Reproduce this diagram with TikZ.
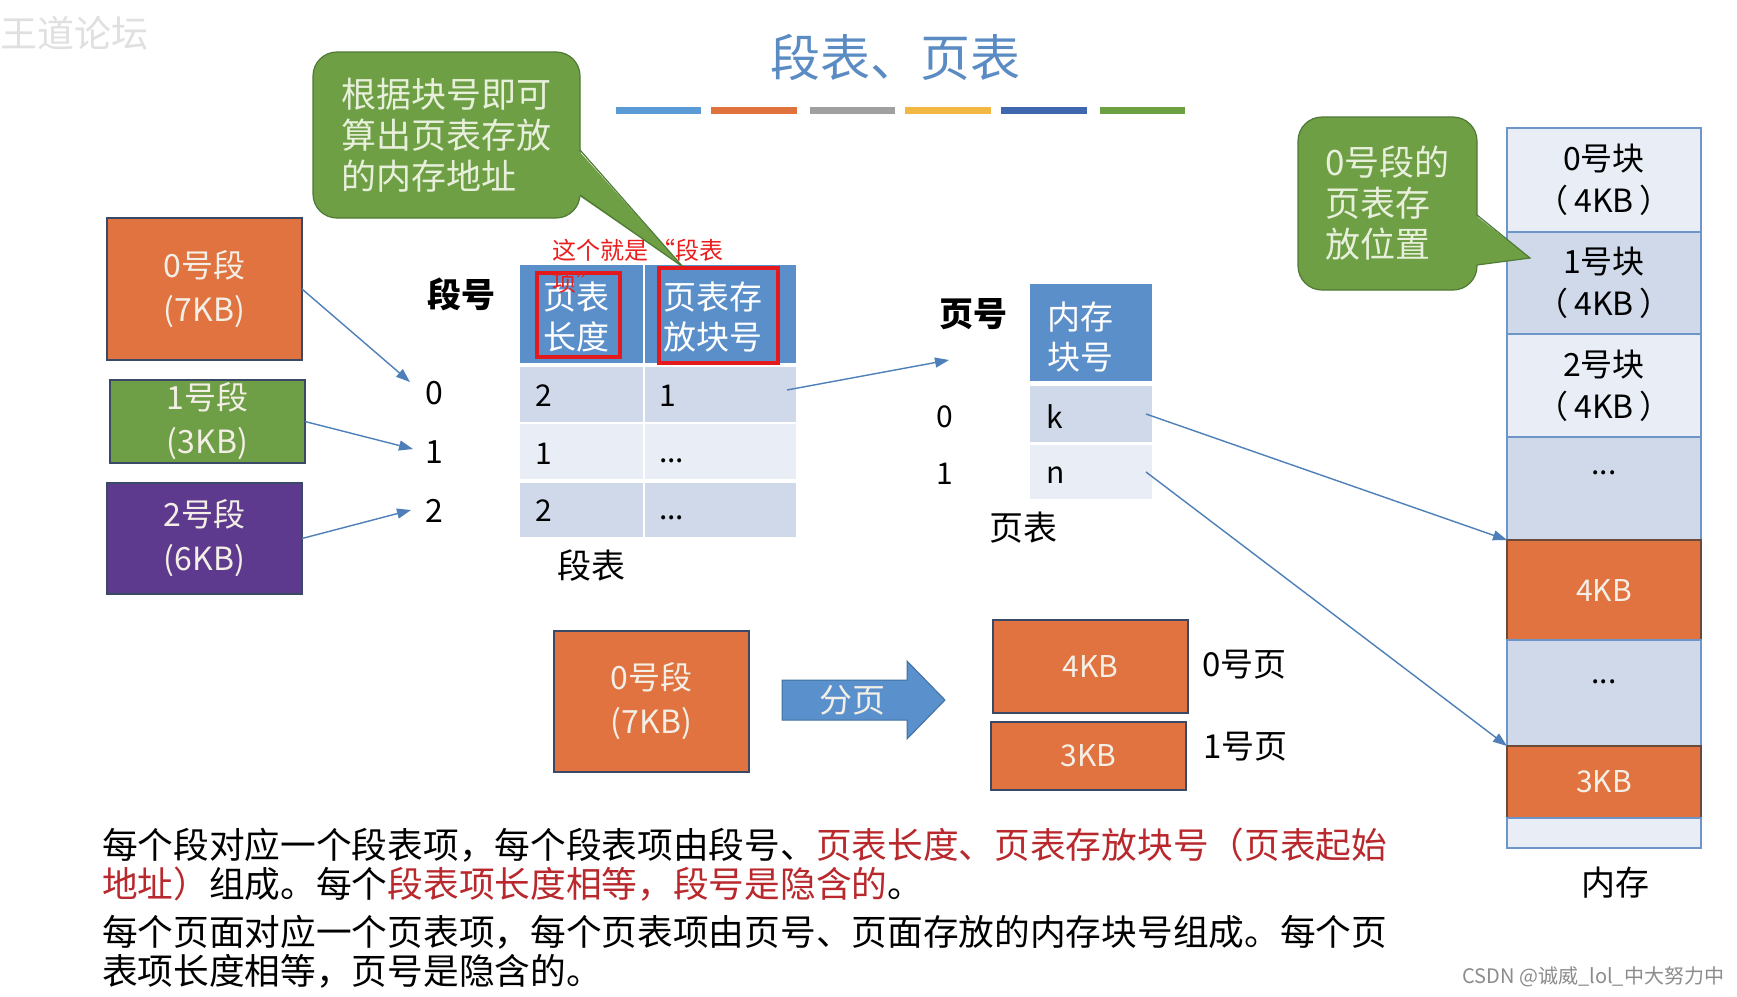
\documentclass[tikz,border=0pt]{standalone}
\usepackage{fontspec}
\setmainfont{Noto Sans CJK SC}
\usetikzlibrary{arrows.meta}
\newcommand{\myfs}[2]{\fontsize{#1pt}{#2pt}\selectfont}
\definecolor{titleblue}{HTML}{5A8BC3}
\definecolor{barA}{HTML}{5B9BD5}
\definecolor{barB}{HTML}{E0733D}
\definecolor{barC}{HTML}{A0A0A0}
\definecolor{barD}{HTML}{F3B843}
\definecolor{barE}{HTML}{3F67AE}
\definecolor{barF}{HTML}{6CA043}
\definecolor{segorange}{HTML}{E0733F}
\definecolor{seggreen}{HTML}{6E9E46}
\definecolor{segpurple}{HTML}{5E3A8E}
\definecolor{boxline}{HTML}{3A4A66}
\definecolor{boxtext}{HTML}{F4EFE6}
\definecolor{hdrblue}{HTML}{5B8FCA}
\definecolor{rowdark}{HTML}{CFD9EA}
\definecolor{rowlight}{HTML}{E8EDF6}
\definecolor{arrowblue}{HTML}{4F7FB8}
\definecolor{memborder}{HTML}{6D95C8}
\definecolor{orangeline}{HTML}{6A4A3A}
\definecolor{redbox}{HTML}{E3191C}
\definecolor{redtext}{HTML}{B8282C}
\definecolor{annored}{HTML}{EA1E1E}
\definecolor{calloutgreen}{HTML}{6E9F45}
\definecolor{calloutborder}{HTML}{4F7A35}
\definecolor{callouttext}{HTML}{E8F0DC}
\definecolor{arrowfill}{HTML}{5A90CC}
\definecolor{arrowline}{HTML}{41719F}
\begin{document}
\begin{tikzpicture}[x=1pt,y=-1pt,
  every node/.style={inner sep=0pt, outer sep=0pt},
  segbox/.style={draw=boxline, line width=1.2pt, minimum width=195pt, align=center, text=boxtext, font=\myfs{32}{44}},
  lbl/.style={font=\myfs{34}{40}},
  num/.style={font=\myfs{32}{36}},
  val/.style={font=\myfs{30}{34}, anchor=west},
  hdrtxt/.style={font=\myfs{33}{40}, text=white, align=left, anchor=west},
  arr/.style={draw=arrowblue, line width=1.4pt, -{Triangle[length=14pt,width=10pt]}},
  mem/.style={draw=memborder, line width=2pt, minimum width=194pt, align=center, font=\myfs{32}{42}},
  memo/.style={fill=segorange, draw=orangeline, line width=1.5pt, minimum width=194pt, text=boxtext, font=\myfs{30}{36}},
  callout/.style={fill=calloutgreen, draw=calloutborder, line width=1.2pt, rounded corners=24pt, align=left, text=callouttext, font=\myfs{35}{41}},
  tail/.style={draw=calloutborder, line width=1.2pt, line join=miter},
  redframe/.style={draw=redbox, line width=4pt},
  body/.style={font=\myfs{35.7}{40}, anchor=west}
]
\useasboundingbox (0,0) rectangle (1737,996);
\fill[white] (0,0) rectangle (1737,996);

% watermarks
\node[font=\myfs{37}{40}, text=black!12, anchor=west] (wm) at (0,33) {王道论坛};
\node[font=\myfs{20}{24}, text=black!45, anchor=east] (csdn) at (1724,977) {CSDN @诚威\_lol\_中大努力中};

% title
\node[font=\myfs{50}{56}, text=titleblue] (title) at (895,57) {段表、页表};
\fill[barA] (616,107) rectangle (701,114);
\fill[barB] (711,107) rectangle (797,114);
\fill[barC] (810,107) rectangle (895,114);
\fill[barD] (905,107) rectangle (991,114);
\fill[barE] (1001,107) rectangle (1087,114);
\fill[barF] (1100,107) rectangle (1185,114);

% segments on the left
\node[segbox, fill=segorange, minimum height=142pt] (seg0) at (204.5,289) {0号段\\(7KB)};
\node[segbox, fill=seggreen, minimum height=83pt] (seg1) at (207.5,421.5) {1号段\\(3KB)};
\node[segbox, fill=segpurple, minimum height=111pt] (seg2) at (204.5,538.5) {2号段\\(6KB)};

\node[num] (n0) at (434,393) {0};
\node[num] (n1) at (434,452) {1};
\node[num] (n2) at (434,511) {2};
\coordinate (e0) at (410,382);
\coordinate (e1) at (413,449);
\coordinate (e2) at (411,510);
\draw[arr] (seg0.east) -- (e0);
\draw[arr] (seg1.east) -- (e1);
\draw[arr] (seg2.east) -- (e2);

\node[lbl, font=\myfs{34}{40}\bfseries] (duanhao) at (461,294) {段号};

% segment table
\node[fill=hdrblue, minimum width=123pt, minimum height=98pt] (h1) at (581.5,314) {};
\node[fill=hdrblue, minimum width=151pt, minimum height=98pt] (h2) at (720.5,314) {};
\node[fill=rowdark, minimum width=123pt, minimum height=55pt] (r0a) at (581.5,394.5) {};
\node[fill=rowdark, minimum width=151pt, minimum height=55pt] (r0b) at (720.5,394.5) {};
\node[fill=rowlight, minimum width=123pt, minimum height=55pt] (r1a) at (581.5,451.5) {};
\node[fill=rowlight, minimum width=151pt, minimum height=55pt] (r1b) at (720.5,451.5) {};
\node[fill=rowdark, minimum width=123pt, minimum height=54pt] (r2a) at (581.5,510) {};
\node[fill=rowdark, minimum width=151pt, minimum height=54pt] (r2b) at (720.5,510) {};
\node[hdrtxt] (h1t) at (543,317) {页表\\长度};
\node[hdrtxt] (h2t) at (663,317) {页表存\\放块号};
\node[val] (v0a) at (535,396) {2};
\node[val] (v1a) at (535,454) {1};
\node[val] (v2a) at (535,511) {2};
\node[val] (v0b) at (659,396) {1};
\node[val] (v1b) at (659,461) {...};
\node[val] (v2b) at (659,518) {...};
\node[lbl] (duanbiao) at (591,566) {段表};

% callout 1
\node[callout, minimum width=267pt, minimum height=166pt] (cb1) at (446.5,135) {根据块号即可\\算出页表存放\\的内存地址};
\fill[calloutgreen] (578,150) -- (683,267) -- (578,195) -- cycle;
\draw[tail] (580,150) -- (683,267) -- (580,195);

% red frames and annotation
\draw[redframe] (537,273) rectangle (620,357);
\draw[redframe] (659,268) rectangle (778,363);
\node[font=\myfs{24}{28}, text=annored, anchor=west] (anno1) at (552,250) {这个就是\hspace{4pt}“段表};
\node[font=\myfs{24}{28}, text=annored, anchor=west] (anno2) at (552,282) {项”};

% arrow seg table -> page table
\coordinate (t1) at (949,360);
\draw[arr] ([shift={(-9pt,4.5pt)}]r0b.east) -- (t1);

% page table
\node[lbl, font=\myfs{34}{40}\bfseries] (yehao) at (973,314) {页号};
\node[fill=hdrblue, minimum width=122pt, minimum height=97pt] (ph) at (1091,332.5) {};
\node[fill=rowdark, minimum width=122pt, minimum height=56pt] (p0) at (1091,414) {};
\node[fill=rowlight, minimum width=122pt, minimum height=54pt] (p1) at (1091,472) {};
\node[hdrtxt] (pht) at (1047,337) {内存\\块号};
\node[val] (pk) at (1046,417) {k};
\node[val] (pn) at (1046,475) {n};
\node[num, font=\myfs{30}{34}] (pn0) at (945,417) {0};
\node[num, font=\myfs{30}{34}] (pn1) at (945,474) {1};
\node[lbl] (yebiao) at (1023,528) {页表};

% memory
\node[mem, fill=rowlight, minimum height=104pt] (m0) at (1604,180) {0号块\\（\,4KB\,）};
\node[mem, fill=rowdark, minimum height=102pt] (m1) at (1604,283) {1号块\\（\,4KB\,）};
\node[mem, fill=rowlight, minimum height=103pt] (m2) at (1604,385.5) {2号块\\（\,4KB\,）};
\node[mem, fill=rowdark, minimum height=103pt] (m3) at (1604,488.5) {};
\node[memo, minimum height=100pt] (m4) at (1604,590) {4KB};
\node[mem, fill=rowdark, minimum height=106pt] (m5) at (1604,693) {};
\node[memo, minimum height=72pt] (m6) at (1604,782) {3KB};
\node[mem, fill=rowlight, minimum height=30pt] (m7) at (1604,833) {};
\node[font=\myfs{30}{34}] (m3t) at (1604,473) {...};
\node[font=\myfs{30}{34}] (m5t) at (1604,682) {...};
\node[lbl] (neicun) at (1615,883) {内存};

% callout 2
\node[callout, minimum width=179pt, minimum height=173pt] (cb2) at (1387.5,203.5) {0号段的\\页表存\\放位置};
\fill[calloutgreen] (1475,215) -- (1530,258) -- (1475,265) -- cycle;
\draw[tail] (1477,215) -- (1530,258) -- (1477,265);

% page table -> memory
\draw[arr] ([xshift=-6pt]p0.east) -- (m4.north west);
\draw[arr] ([xshift=-6pt]p1.east) -- (m6.north west);

% paging illustration
\node[segbox, fill=segorange, minimum height=141pt] (pseg) at (651.5,701.5) {0号段\\(7KB)};
\fill[arrowfill, draw=arrowline, line width=1pt] (782,680) -- (907,680) -- (907,661) -- (945,700) -- (907,739) -- (907,720) -- (782,720) -- cycle;
\node[font=\myfs{33}{38}, text=boxtext] (fenye) at (852,700) {分页};
\node[segbox, fill=segorange, minimum height=93pt, font=\myfs{30}{36}] (pg0) at (1090.5,666.5) {4KB};
\node[segbox, fill=segorange, minimum height=68pt, font=\myfs{30}{36}] (pg1) at (1088.5,756) {3KB};
\node[font=\myfs{33}{38}, anchor=west] (pg0l) at (1202,665) {0号页};
\node[font=\myfs{33}{38}, anchor=west] (pg1l) at (1203,747) {1号页};

% bottom text
\node[body] (l1) at (102,845) {每个段对应一个段表项，每个段表项由段号、\textcolor{redtext}{页表长度、页表存放块号（页表起始}};
\node[body] (l2) at (102,884) {\textcolor{redtext}{地址）}组成。每个\textcolor{redtext}{段表项长度相等，段号是隐含的}。};
\node[body] (l3) at (102,932) {每个页面对应一个页表项，每个页表项由页号、页面存放的内存块号组成。每个页};
\node[body] (l4) at (102,971) {表项长度相等，页号是隐含的。};
\end{tikzpicture}
\end{document}
